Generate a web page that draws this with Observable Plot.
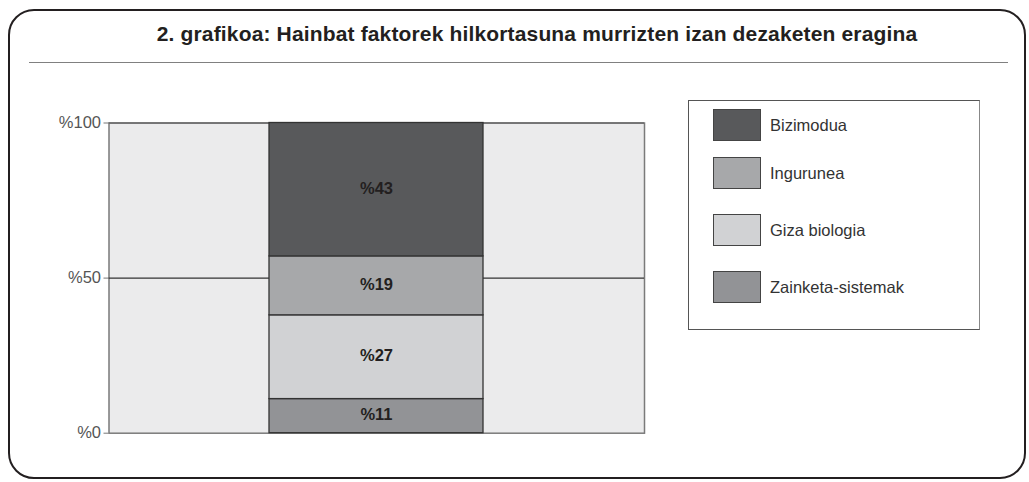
<!DOCTYPE html>
<html>
<head>
<meta charset="utf-8">
<script src="https://cdn.jsdelivr.net/npm/d3@7"></script>
<script src="https://cdn.jsdelivr.net/npm/@observablehq/plot@0.6"></script>
<style>
  html, body { margin: 0; padding: 0; background: #fff; }
  body { width: 1029px; height: 482px; position: relative; overflow: hidden; font-family: "Liberation Sans", Arial, Helvetica, sans-serif; }
  #frame { position: absolute; left: 8px; top: 9px; width: 1018px; height: 470px; border: 2px solid #231f20; border-radius: 26px; box-sizing: border-box; pointer-events: none; }
  #title { position: absolute; left: 537px; top: 22px; transform: translateX(-50%); white-space: nowrap; font-weight: bold; font-size: 21px; letter-spacing: 0.15px; color: #231f20; }
  #rule { position: absolute; left: 29px; top: 62px; width: 979px; height: 0; border-top: 1.5px solid #808080; }
  #chart { position: absolute; left: 0; top: 0; }
  #legend { position: absolute; left: 688px; top: 100px; width: 292px; height: 230px; box-sizing: border-box; border: 1px solid #555; border-right-color: #888; background: #fff; }
  .item { position: absolute; left: 24px; height: 32px; display: flex; align-items: center; }
  .sw { width: 48px; height: 32px; box-sizing: border-box; border: 1px solid #444; }
  .lab { margin-left: 9px; font-size: 16.5px; color: #333; }
</style>
</head>
<body>
<div id="chart"></div>
<div id="title"></div>
<div id="rule"></div>
<div id="legend"></div>
<div id="frame"></div>
<script>
const titleText = "2. grafikoa: Hainbat faktorek hilkortasuna murrizten izan dezaketen eragina";
const categories = ["Zainketa-sistemak", "Giza biologia", "Ingurunea", "Bizimodua"];
const values = [11, 27, 19, 43];
const colors = ["#929396", "#d1d2d4", "#a7a8aa", "#58595b"];
const legendOrder = ["Bizimodua", "Ingurunea", "Giza biologia", "Zainketa-sistemak"];
const yTicks = [0, 50, 100];

document.getElementById("title").textContent = titleText;

const data = categories.map((c, i) => ({group: "g", factor: c, value: values[i]}));

const chart = Plot.plot({
  width: 1029,
  height: 482,
  marginLeft: 108.5,
  marginRight: 385,
  marginTop: 122.5,
  marginBottom: 49.3,
  style: {fontFamily: "Liberation Sans, Arial, sans-serif", background: "transparent"},
  x: {domain: ["g"], padding: 3/7, axis: null},
  y: {domain: [0, 100], ticks: yTicks, tickFormat: d => "%" + d, tickSize: 5, tickPadding: 3, label: null},
  color: {domain: categories, range: colors},
  marks: [
    Plot.frame({fill: "#ebebec", stroke: "#7a7a7a", strokeWidth: 1.5}),
    Plot.ruleY([100], {stroke: "#555", strokeWidth: 1.2}),
    Plot.ruleY([50], {stroke: "#333", strokeWidth: 1.2}),
    Plot.barY(data, {x: "group", y: "value", fill: "factor", z: "factor", stroke: "#333", strokeWidth: 1.3, order: categories}),
    Plot.text(data, Plot.stackY({x: "group", y: "value", z: "factor", order: categories, text: d => "%" + d.value, fontWeight: "bold", fontSize: 16.5, fill: "#231f20", dy: -1})),
    Plot.axisY({ticks: yTicks, tickFormat: d => "%" + d, tickSize: 5, tickPadding: 3, fontSize: 16.5, color: "#555", stroke: "#777", label: null})
  ]
});
document.getElementById("chart").appendChild(chart);

const legend = document.getElementById("legend");
const tops = [8, 56, 113, 170];
legendOrder.forEach((name, i) => {
  const item = document.createElement("div");
  item.className = "item";
  item.style.top = tops[i] + "px";
  const sw = document.createElement("div");
  sw.className = "sw";
  sw.style.background = colors[categories.indexOf(name)];
  const lab = document.createElement("span");
  lab.className = "lab";
  lab.textContent = name;
  item.appendChild(sw);
  item.appendChild(lab);
  legend.appendChild(item);
});
</script>
</body>
</html>
